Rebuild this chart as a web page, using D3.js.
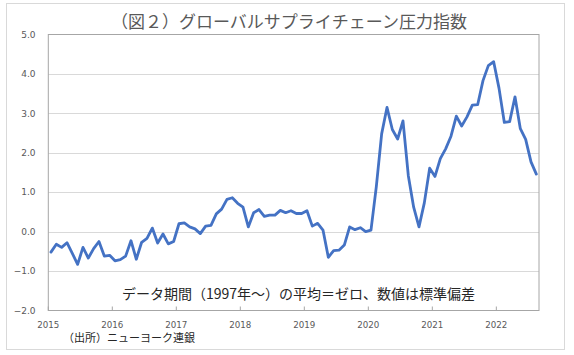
<!DOCTYPE html>
<html><head><meta charset="utf-8">
<script src="https://cdn.jsdelivr.net/npm/d3@7"></script>
<style>body{margin:0;background:#fff;} svg{display:block;}</style>
</head><body>
<svg id="c" width="574" height="355"></svg>
<script>
const title = "（図２）グローバルサプライチェーン圧力指数";
const note = "データ期間（1997年～）の平均＝ゼロ、数値は標準偏差";
const source = "（出所）ニューヨーク連銀";
const yearLabels = ["2015","2016","2017","2018","2019","2020","2021","2022"];
const yTicks = [-2,-1,0,1,2,3,4,5];
const v2015 = [-0.52,-0.32,-0.40,-0.28,-0.55,-0.83,-0.40,-0.67,-0.43,-0.25,-0.62,-0.60];
const v2016 = [-0.74,-0.71,-0.62,-0.23,-0.70,-0.27,-0.17,0.09,-0.29,-0.06,-0.31,-0.25];
const v2017 = [0.20,0.22,0.12,0.07,-0.05,0.14,0.16,0.45,0.57,0.82,0.86,0.72];
const v2018 = [0.62,0.12,0.48,0.56,0.39,0.42,0.42,0.54,0.48,0.53,0.46,0.46];
const v2019 = [0.53,0.14,0.21,0.04,-0.65,-0.48,-0.47,-0.34,0.12,0.05,0.10,0.00];
const v2020 = [0.04,1.14,2.48,3.15,2.59,2.35,2.81,1.42,0.62,0.12,0.73,1.61];
const v2021 = [1.40,1.85,2.10,2.42,2.93,2.68,2.91,3.21,3.22,3.83,4.21,4.31];
const v2022 = [3.64,2.77,2.79,3.42,2.61,2.34,1.77,1.46];
const values = [].concat(v2015,v2016,v2017,v2018,v2019,v2020,v2021,v2022);

const svg = d3.select("#c");
const L = 48.3, R = 539, T = 34.5, B = 310.5;
const font = "'Noto Sans CJK JP','Noto Sans',sans-serif";
const numFont = "'DejaVu Sans',sans-serif";

svg.append("rect").attr("x",6.5).attr("y",3.5).attr("width",558).attr("height",346)
  .attr("fill","#fff").attr("stroke","#d9d9d9");

const y = d3.scaleLinear().domain([-2,5]).range([B,T]);
const x = d3.scaleBand().domain(d3.range(values.length)).range([L,R]).paddingInner(0).paddingOuter(0);
const xYear = d3.scaleLinear().domain([0,values.length]).range([L,R]);

// gridlines
svg.append("g").selectAll("line").data(yTicks.filter(t=>t>-2 && t<5)).join("line")
  .attr("x1",L).attr("x2",R).attr("y1",d=>Math.round(y(d))+0.5).attr("y2",d=>Math.round(y(d))+0.5)
  .attr("stroke","#d9d9d9").attr("stroke-width",1.2);

// plot border
svg.append("rect").attr("x",L).attr("y",T).attr("width",R-L).attr("height",B-T)
  .attr("fill","none").attr("stroke","#a6a6a6").attr("stroke-width",1);

// y labels
svg.append("g").selectAll("text").data(yTicks).join("text")
  .attr("x",35.5).attr("y",d=>y(d)).attr("dy","0.35em").attr("text-anchor","end")
  .attr("font-family",numFont).attr("font-size",9).attr("fill","#595959")
  .text(d=>d3.format(".1f")(d));

// x ticks and labels
const yearIdx = yearLabels.map((d,i)=>i*12);
svg.append("g").selectAll("line").data(yearIdx).join("line")
  .attr("x1",d=>xYear(d)).attr("x2",d=>xYear(d)).attr("y1",B).attr("y2",B-4)
  .attr("stroke","#a6a6a6");
svg.append("g").selectAll("text").data(yearLabels).join("text")
  .attr("x",(d,i)=>xYear(i*12)).attr("y",324.5).attr("dy","0.35em").attr("text-anchor","middle")
  .attr("font-family",numFont).attr("font-size",8.7).attr("fill","#595959").text(d=>d);

// line
const line = d3.line().x((d,i)=>x(i)+x.bandwidth()/2).y(d=>y(d));
svg.append("path").datum(values).attr("d",line).attr("fill","none")
  .attr("stroke","#4472C4").attr("stroke-width",2.8).attr("stroke-linejoin","round").attr("stroke-linecap","round");

// title
svg.append("text").attr("x",289).attr("y",22).attr("dy","0.35em").attr("text-anchor","middle")
  .attr("font-family",font).attr("font-size",17).attr("fill","#595959").text(title);

// note
svg.append("text").attr("x",298.5).attr("y",294).attr("dy","0.35em").attr("text-anchor","middle")
  .attr("font-family",font).attr("font-size",14).attr("fill","#262626").text(note);

// source
svg.append("text").attr("x",63).attr("y",338).attr("dy","0.35em").attr("text-anchor","start")
  .attr("font-family",font).attr("font-size",11).attr("fill","#262626").text(source);
</script>
</body></html>
